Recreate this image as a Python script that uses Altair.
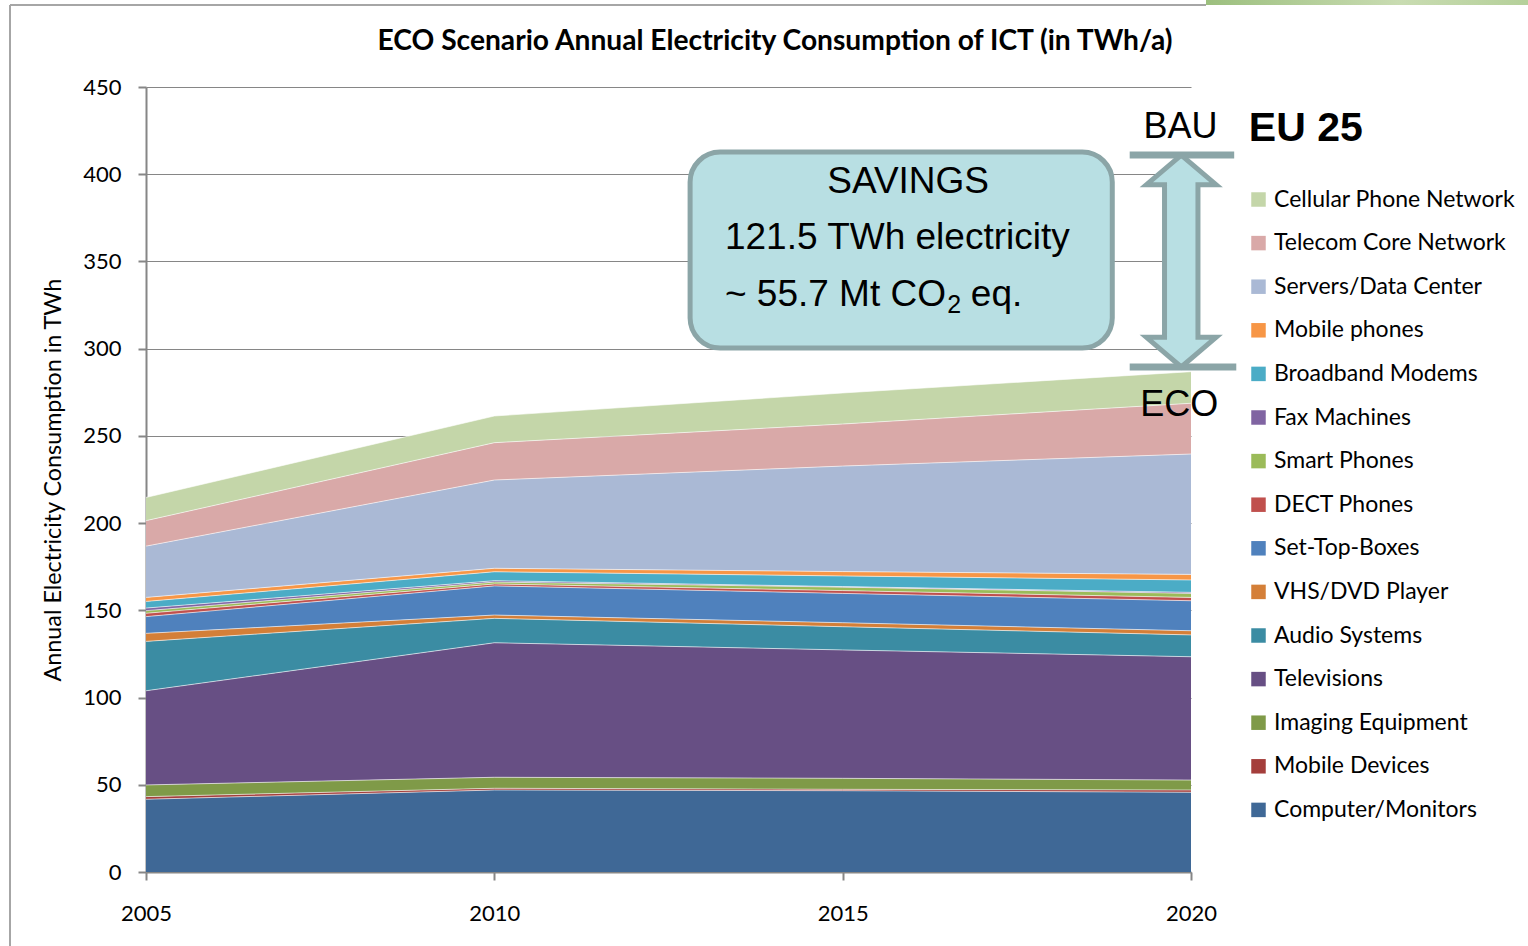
import altair as alt
import pandas as pd

# ---- data -----------------------------------------------------------------
years = [2005, 2010, 2015, 2020]

# stacked from the bottom up (TWh/a)
computer_monitors = [41.7, 47.0, 46.6, 45.7]
mobile_devices = [1.5, 1.0, 0.8, 1.3]
imaging_equipment = [6.7, 6.3, 6.3, 5.7]
televisions = [54.0, 77.1, 73.6, 70.7]
audio_systems = [28.3, 14.0, 13.3, 12.5]
vhs_dvd = [4.6, 1.9, 2.3, 2.4]
set_top_boxes = [9.6, 16.7, 16.8, 17.2]
dect_phones = [1.9, 1.1, 1.6, 1.9]
smart_phones = [1.5, 1.1, 2.0, 2.3]
fax_machines = [1.5, 0.8, 0.3, 0.6]
broadband_modems = [3.8, 5.1, 6.1, 7.1]
mobile_phones = [2.3, 2.0, 2.5, 3.2]
servers_dc = [29.4, 50.6, 60.5, 69.0]
telecom_core = [14.6, 21.4, 24.1, 29.1]
cellular_network = [13.3, 15.3, 17.8, 18.1]

stack_names = [
    "Computer/Monitors", "Mobile Devices", "Imaging Equipment", "Televisions",
    "Audio Systems", "VHS/DVD Player", "Set-Top-Boxes", "DECT Phones",
    "Smart Phones", "Fax Machines", "Broadband Modems", "Mobile phones",
    "Servers/Data Center", "Telecom Core Network", "Cellular Phone Network",
]
stack_values = [
    computer_monitors, mobile_devices, imaging_equipment, televisions,
    audio_systems, vhs_dvd, set_top_boxes, dect_phones, smart_phones,
    fax_machines, broadband_modems, mobile_phones, servers_dc,
    telecom_core, cellular_network,
]
stack_colors = [
    "#3f6896", "#a43e3b", "#7f9a48", "#674f84", "#3b8ca3", "#d47f38",
    "#4f81bd", "#c0504d", "#9bbb59", "#8064a2", "#4bacc6", "#f79646",
    "#aab9d5", "#d9a9a8", "#c4d6a9",
]

savings_twh = 121.5          # BAU minus ECO in 2020
eco_level = 289.5            # lower bar of the savings arrow
bau_level = eco_level + savings_twh

rows = []
for i, (name, vals) in enumerate(zip(stack_names, stack_values)):
    for yr, v in zip(years, vals):
        rows.append({"year": yr, "device": name, "twh": v, "idx": i})
df = pd.DataFrame(rows)

legend_order = stack_names[::-1]
legend_colors = stack_colors[::-1]

# ---- scales and axes (shared by every layer) --------------------------------
W, H = 1045, 785
GRAY = "#868686"
LABEL_FONT = "Lato"
ARIAL = "Liberation Sans"

xs = alt.Scale(domain=[2005, 2020], nice=False, zero=False)
ys = alt.Scale(domain=[0, 450], nice=False)
x_axis = alt.Axis(
    values=years, format="d", title=None, grid=False, labelFontSize=22,
    labelFont=LABEL_FONT, labelColor="#000000", tickSize=8, tickColor=GRAY,
    tickWidth=2, domainColor=GRAY, domainWidth=2, labelPadding=23,
    labelFlush=False)
y_axis = alt.Axis(
    values=list(range(0, 451, 50)), title="Annual Electricity Consumption  in TWh",
    titleFont=LABEL_FONT, titleFontSize=23.3, titleFontWeight="normal",
    titleColor="#000000", titleX=-93, titleY=H / 2, titleAngle=270,
    titleAlign="center", titleBaseline="middle",
    labelFontSize=22, labelFont=LABEL_FONT, labelColor="#000000",
    tickSize=8, tickColor=GRAY, tickWidth=2, domainColor=GRAY,
    domainWidth=2, labelPadding=17, gridColor=GRAY, gridWidth=1)


def X(field):
    return alt.X(field, scale=xs, axis=x_axis)


def Y(field, **kw):
    return alt.Y(field, scale=ys, axis=y_axis, **kw)


areas = alt.Chart(df).mark_area(opacity=1, interpolate="linear").encode(
    x=X("year:Q"),
    y=Y("twh:Q", stack="zero"),
    color=alt.Color("device:N", scale=alt.Scale(domain=legend_order, range=legend_colors),
                    legend=alt.Legend(
                        orient="none", legendX=1101, legendY=101, title=None,
                        symbolType="square", symbolSize=210, symbolStrokeWidth=0,
                        symbolOpacity=1, labelFontSize=23, labelFont=LABEL_FONT,
                        labelColor="#000000", labelOffset=4, rowPadding=19.6,
                        labelLimit=400)),
    order=alt.Order("idx:Q", sort="ascending"),
)

# faint light seams along the top of every band
seams = alt.Chart(df).mark_line(
    color="white", strokeWidth=1, strokeOpacity=0.6, interpolate="linear"
).encode(
    x=X("year:Q"),
    y=Y("twh:Q", stack="zero"),
    detail="device:N",
    order=alt.Order("idx:Q", sort="ascending"),
)

# ---- savings annotation ---------------------------------------------------
one = pd.DataFrame({"k": [0]})

box_df = pd.DataFrame({"x1": [2012.81], "x2": [2018.87], "y1": [412.7], "y2": [300.4]})
box = alt.Chart(box_df).mark_rect(
    fill="#b8dfe3", stroke="#8ba5a7", strokeWidth=5, cornerRadius=30
).encode(x=X("x1:Q"), x2="x2:Q", y=Y("y1:Q"), y2="y2:Q")


def label(txt, xv, yv, size, font=ARIAL, weight="normal", align="center"):
    d = pd.DataFrame({"x": [xv], "y": [yv], "t": [txt]})
    return alt.Chart(d).mark_text(
        font=font, fontSize=size, fontWeight=weight, align=align,
        baseline="middle", color="#000000"
    ).encode(x=X("x:Q"), y=Y("y:Q"), text="t:N")


box_texts = [
    label("SAVINGS", 2015.94, 395.5, 37),
    label(f"{savings_twh} TWh electricity", 2013.31, 363.4, 37, align="left"),
    label("~ 55.7 Mt CO", 2013.31, 330.8, 37, align="left"),
    label("2", 2016.50, 325.0, 25, align="left"),
    label("eq.", 2016.84, 330.8, 37, align="left"),
]

# double-headed arrow between ECO and BAU in 2020
cx, sw, hw, hh = 2019.86, 0.24, 0.50, 17.0
arrow_pts = [
    (cx, bau_level), (cx + hw, bau_level - hh), (cx + sw, bau_level - hh),
    (cx + sw, eco_level + hh), (cx + hw, eco_level + hh), (cx, eco_level),
    (cx - hw, eco_level + hh), (cx - sw, eco_level + hh), (cx - sw, bau_level - hh),
    (cx - hw, bau_level - hh), (cx, bau_level),
]
arrow_df = pd.DataFrame({"x": [p[0] for p in arrow_pts], "y": [p[1] for p in arrow_pts],
                         "o": list(range(len(arrow_pts)))})
arrow = alt.Chart(arrow_df).mark_line(
    fill="#b8dfe3", stroke="#8ba5a7", strokeWidth=5, strokeJoin="miter"
).encode(x=X("x:Q"), y=Y("y:Q"), order="o:Q")

bars_df = pd.DataFrame({"x1": [2019.12, 2019.12], "x2": [2020.62, 2020.65],
                        "y": [bau_level, eco_level]})
bars = alt.Chart(bars_df).mark_rule(color="#8ba5a7", strokeWidth=7).encode(
    x=X("x1:Q"), x2="x2:Q", y=Y("y:Q"))

side_texts = [
    label("BAU", 2019.85, 427.0, 36),
    label("ECO", 2019.83, 267.7, 36),
    label("EU 25", 2020.83, 426.0, 41, weight="bold", align="left"),
]

# ---- title and slide frame -------------------------------------------------
title = alt.Chart(one).mark_text(
    text="ECO Scenario Annual Electricity Consumption of ICT (in TWh/a)",
    font=LABEL_FONT, fontSize=28.2, fontWeight="bold", align="center",
    baseline="middle", color="#000000",
).encode(x=alt.value(629), y=alt.value(-45))

frame_left = alt.Chart(one).mark_rule(color="#a6a6a6", strokeWidth=2).encode(
    x=alt.value(-136), y=alt.value(-82), y2=alt.value(H + 80))
frame_top = alt.Chart(one).mark_rule(color="#a6a6a6", strokeWidth=2).encode(
    x=alt.value(-136), x2=alt.value(1060), y=alt.value(-82))
strip = alt.Chart(one).mark_rect(
    fill=alt.Gradient(gradient="linear", x1=0, x2=1, y1=0, y2=0,
                      stops=[alt.GradientStop(color="#9cbf7e", offset=0),
                             alt.GradientStop(color="#c9dcb2", offset=0.6),
                             alt.GradientStop(color="#b5d09a", offset=1)])
).encode(x=alt.value(1060), x2=alt.value(1382), y=alt.value(-87), y2=alt.value(-82))

chart = alt.layer(
    areas, seams, box, *box_texts, arrow, bars, *side_texts, title,
    frame_left, frame_top, strip,
).properties(
    width=W, height=H,
    autosize=alt.AutoSizeParams(type="none"),
    padding={"left": 146, "top": 87, "right": 337, "bottom": 74},
    background="white",
).configure_view(stroke=None)

chart.save("out.html", embed_options={"renderer": "svg", "actions": False})
